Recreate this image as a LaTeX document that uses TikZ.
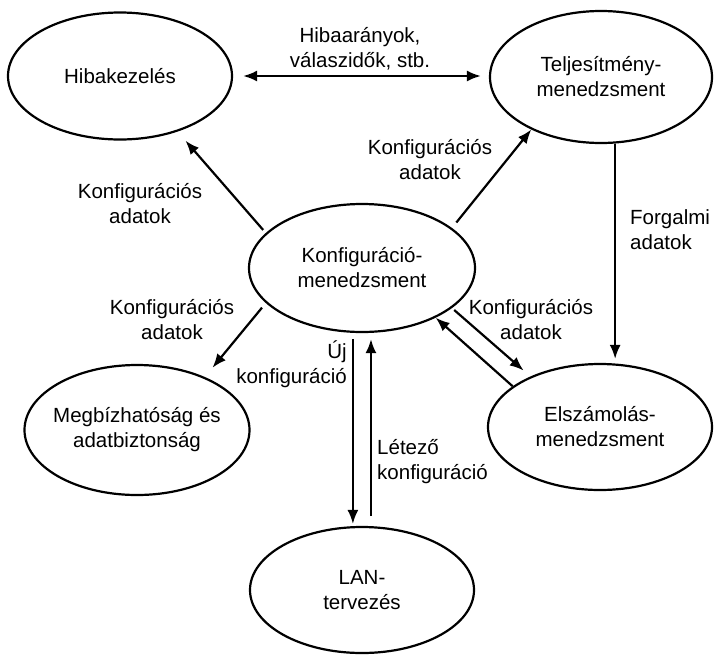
\documentclass[tikz,border=0pt]{standalone}
\usepackage{fontspec}
\setmainfont{Liberation Sans}
\usepackage{tikz}
\usetikzlibrary{arrows.meta,positioning,shapes.geometric}

\begin{document}
\begin{tikzpicture}[
  x=1pt, y=-1pt,
  every node/.style={font=\fontsize{20.5pt}{25pt}\selectfont},
  proc/.style={draw, ellipse, line width=2.2pt, align=center, inner sep=0pt, minimum width=224pt, minimum height=128pt},
  lbl/.style={align=center, inner sep=0pt},
  arr/.style={-{Latex[length=14pt,width=11pt]}, line width=2.2pt},
  darr/.style={{Latex[length=14pt,width=11pt]}-{Latex[length=14pt,width=11pt]}, line width=2.2pt}
]
\useasboundingbox (0,0) rectangle (714,654);
\node[proc, minimum height=127pt] (hiba) at (120,76) {Hibakezelés};
\node[proc, minimum width=222pt, minimum height=132pt] (telj) at (601,77) {Teljesítmény-\\menedzsment};
\node[proc, minimum width=226pt] (konf) at (362,268) {Konfiguráció-\\menedzsment};
\node[proc, minimum width=225pt, minimum height=130pt, inner xsep=-8pt] (megb) at (137,430) {Megbízhatóság és\\adatbiztonság};
\node[proc, minimum height=126pt] (elsz) at (600,427) {Elszámolás-\\menedzsment};
\node[proc, minimum height=126pt] (lan) at (362,590) {LAN-\\tervezés};
\node[lbl] (lblhiba) at (360,49) {Hibaarányok,\\válaszidők, stb.};
\node[lbl] (lblkh) at (140,204) {Konfigurációs\\adatok};
\node[lbl] (lblkt) at (430,160) {Konfigurációs\\adatok};
\node[lbl, anchor=west, align=left] (lblforg) at (630,230) {Forgalmi\\adatok};
\node[lbl] (lblkm) at (172,320) {Konfigurációs\\adatok};
\node[lbl] (lblke) at (531,320) {Konfigurációs\\adatok};
\node[lbl, anchor=east, align=right] (lbluj) at (347,364) {Új\\konfiguráció};
\node[lbl, anchor=west, align=left] (lbllet) at (377,462) {Létező\\konfiguráció};
\draw[darr, shorten <=10pt, shorten >=8pt] (hiba.east) -- (hiba.east -| telj.west);
\draw[arr, shorten <=4pt, shorten >=12pt] (konf.160) -- (hiba.-44);
\draw[arr, shorten <=7pt] (konf.24) -- (telj.217);
\draw[arr, shorten <=6pt, shorten >=12pt] (konf.200) -- (megb.38);
\draw[arr, shorten >=4pt] (telj.-78) -- (elsz.north -| telj.-78);
\draw[arr, shorten <=6pt, shorten >=2pt] (konf.262) -- (lan.north -| konf.262);
\draw[arr, shorten <=10pt, shorten >=6pt] (lan.82) -- (konf.south -| lan.82);
\draw[arr, shorten <=3pt, shorten >=9pt] (konf.-24) -- (elsz.144);
\draw[arr] (elsz.155) -- (konf.-34);
\end{tikzpicture}
\end{document}
